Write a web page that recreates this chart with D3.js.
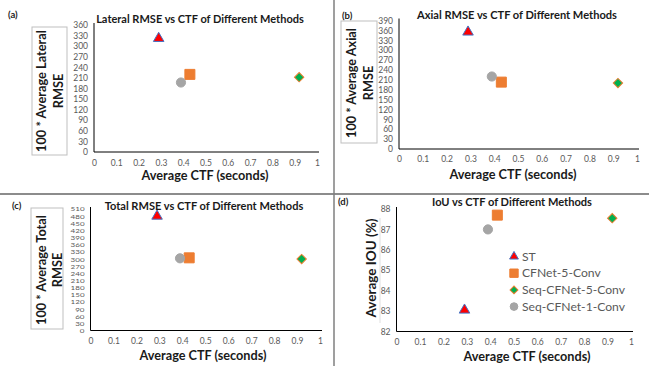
<!DOCTYPE html>
<html>
<head>
<meta charset="utf-8">
<script src="https://cdn.jsdelivr.net/npm/d3@7"></script>
<style>
  body { margin: 0; background: #fff; }
  svg { display: block; font-family: Lato, "Open Sans", sans-serif; }
</style>
</head>
<body>
<div id="chart"></div>
<script>
// data
const methods = ['ST', 'CFNet-5-Conv', 'Seq-CFNet-5-Conv', 'Seq-CFNet-1-Conv'];
const ctf = [0.29, 0.43, 0.92, 0.39];
const lateralRmse = [322, 220, 212, 197];
const axialRmse = [355, 203, 200, 220];
const totalRmse = [480, 305, 300, 303];
const iou = [83.05, 87.7, 87.55, 87.0];

const xTicks = [0, 0.1, 0.2, 0.3, 0.4, 0.5, 0.6, 0.7, 0.8, 0.9, 1];
const lateralTicks = d3.range(0, 361, 30);
const axialTicks = d3.range(0, 391, 30);
const totalTicks = d3.range(0, 511, 30);
const iouTicks = [82, 83, 84, 85, 86, 87, 88];

// marker style per method
const markerStyle = [
  { type: d3.symbolTriangle, size: 48, fill: '#ff0000', stroke: '#4472c4', rot: 0 },
  { type: d3.symbolSquare, size: 100, fill: '#ed7d31', stroke: '#ed7d31', rot: 0 },
  { type: d3.symbolSquare, size: 44, fill: '#00b050', stroke: '#ed7d31', rot: 45 },
  { type: d3.symbolCircle, size: 66, fill: '#a5a5a5', stroke: '#a5a5a5', rot: 0 }
];

// shrink/grow the font so the text takes the given width
function fitWidth(sel, target) {
  const fs = parseFloat(sel.attr('font-size'));
  const w = sel.node().getComputedTextLength();
  if (w > 0) sel.attr('font-size', (fs * target / w).toFixed(2));
  return parseFloat(sel.attr('font-size'));
}

const W = 649, H = 372;
const svg = d3.select('#chart').append('svg')
  .attr('width', W)
  .attr('height', H);

// dividers between the four panels
svg.append('line')
  .attr('x1', 0).attr('x2', W).attr('y1', 194).attr('y2', 194)
  .attr('stroke', '#8c8c8c').attr('stroke-width', 2);
svg.append('line')
  .attr('x1', 334).attr('x2', 334).attr('y1', 0).attr('y2', 366)
  .attr('stroke', '#7f7f7f').attr('stroke-width', 1.5);

const panels = [
  { tag: '(a)', tagX: 8, tagY: 18, title: 'Lateral RMSE vs CTF of Different Methods', titleX: 200, titleY: 23, titleW: 208,
    x0: 94, x1: 317, yTop: 25, yBot: 152, yDom: [0, 360], yTicks: lateralTicks, y: lateralRmse, squash: 1,
    ylab: ['100 * Average Lateral', 'RMSE'], ylabW: 122, box: [32, 27, 35, 128], labX: [41.7, 58.3], labY: 91,
    xlabX: 205, xlabY: 180, xtickY: 163 },
  { tag: '(b)', tagX: 342, tagY: 19, title: 'Axial RMSE vs CTF of Different Methods', titleX: 517, titleY: 19, titleW: 200,
    x0: 399, x1: 637, yTop: 20.5, yBot: 149, yDom: [0, 390], yTicks: axialTicks, y: axialRmse, squash: 1,
    ylab: ['100 * Average Axial', 'RMSE'], ylabW: 110, box: [341, 21, 36, 122], labX: [351.7, 368.3], labY: 83,
    xlabX: 513, xlabY: 178.5, xtickY: 159.5 },
  { tag: '(c)', tagX: 12, tagY: 209, title: 'Total RMSE vs CTF of Different Methods', titleX: 204, titleY: 209.5, titleW: 199,
    x0: 90.5, x1: 320, yTop: 209, yBot: 330.5, yDom: [0, 510], yTicks: totalTicks, y: totalRmse, squash: 0.78,
    ylab: ['100 * Average Total', 'RMSE'], ylabW: 110, box: [31, 208, 32, 121], labX: [41.7, 57.3], labY: 270,
    xlabX: 203, xlabY: 359.5, xtickY: 341.5 },
  { tag: '(d)', tagX: 338, tagY: 205, title: 'IoU vs CTF of Different Methods', titleX: 512, titleY: 205.5, titleW: 160,
    x0: 396.5, x1: 631, yTop: 209, yBot: 331.5, yDom: [82, 88], yTicks: iouTicks, y: iou, squash: 1,
    ylab: ['Average IOU (%)'], ylabW: 99, box: null, labX: [371], labY: 268,
    xlabX: 527, xlabY: 360.5, xtickY: 342.5 }
];

panels.forEach(p => {
  const g = svg.append('g');

  const xscale = d3.scaleLinear().domain([0, 1]).range([p.x0, p.x1]);
  const yscale = d3.scaleLinear().domain(p.yDom).range([p.yBot, p.yTop]);

  // panel letter + title
  g.append('text')
    .attr('x', p.tagX).attr('y', p.tagY)
    .attr('font-size', 9.5).attr('font-weight', 'bold').attr('fill', '#222')
    .text(p.tag);
  const title = g.append('text')
    .attr('x', p.titleX).attr('y', p.titleY)
    .attr('text-anchor', 'middle')
    .attr('font-size', 12).attr('font-weight', 'bold').attr('fill', '#1a1a1a')
    .text(p.title);
  fitWidth(title, p.titleW);

  // axes, no tick marks
  const xAxis = d3.axisBottom(xscale).tickValues(xTicks).tickSize(0).tickPadding(0).tickFormat(d3.format(''));
  const yAxis = d3.axisLeft(yscale).tickValues(p.yTicks).tickSize(0).tickPadding(6).tickFormat(d3.format(''));

  const gx = g.append('g')
    .attr('class', 'xAxis')
    .attr('transform', `translate(0,${p.yBot})`)
    .call(xAxis);
  const gy = g.append('g')
    .attr('class', 'yAxis')
    .attr('transform', `translate(${p.x0},0)`)
    .call(yAxis);

  [gx, gy].forEach(a => {
    a.select('.domain').attr('stroke', '#000').attr('stroke-width', 1);
    a.selectAll('text').attr('font-size', 8.5).attr('fill', '#595959')
      .attr('font-family', 'Lato, sans-serif');
  });
  gx.selectAll('text').attr('y', p.xtickY - p.yBot).attr('dy', '0.35em');
  gx.select('.domain').attr('d', `M${p.x0},0H${p.x1 + 2}`);
  gy.select('.domain').attr('d', `M0,${p.yTop - 2}V${p.yBot}`);
  if (p.squash < 1) {
    gy.selectAll('text').attr('font-size', 8).attr('transform', `scale(1,${p.squash})`);
  }

  // x axis label
  const xl = g.append('text')
    .attr('x', p.xlabX).attr('y', p.xlabY)
    .attr('text-anchor', 'middle')
    .attr('font-size', 12.5).attr('font-weight', 'bold').attr('fill', '#1a1a1a')
    .text('Average CTF (seconds)');
  fitWidth(xl, 127);

  // y axis label (boxed)
  if (p.box) {
    g.append('rect')
      .attr('x', p.box[0]).attr('y', p.box[1])
      .attr('width', p.box[2]).attr('height', p.box[3])
      .attr('fill', 'none').attr('stroke', '#bfbfbf').attr('stroke-width', 1);
  } else {
    g.append('line')
      .attr('x1', 380).attr('x2', 380).attr('y1', 218).attr('y2', 323)
      .attr('stroke', '#e0e0e0').attr('stroke-width', 1);
  }
  let labFs = 13;
  p.ylab.forEach((t, i) => {
    const yl = g.append('text')
      .attr('transform', `translate(${p.labX[i]},${p.labY}) rotate(-90)`)
      .attr('text-anchor', 'middle')
      .attr('dy', '0.35em')
      .attr('font-size', labFs).attr('font-weight', 'bold').attr('fill', '#1a1a1a')
      .text(t);
    if (i === 0) labFs = fitWidth(yl, p.ylabW);
  });

  // points
  methods.forEach((m, i) => {
    const s = markerStyle[i];
    g.append('path')
      .attr('d', d3.symbol().type(s.type).size(s.size)())
      .attr('transform', `translate(${xscale(ctf[i])},${yscale(p.y[i])}) rotate(${s.rot})`)
      .attr('fill', s.fill)
      .attr('stroke', s.stroke)
      .attr('stroke-width', 1);
  });
});

// legend (panel d)
const legend = svg.append('g').attr('transform', 'translate(514,256.5)');
const legendText = [];
methods.forEach((m, i) => {
  const s = markerStyle[i];
  const row = legend.append('g').attr('transform', `translate(0,${i * 16.7})`);
  row.append('path')
    .attr('d', d3.symbol().type(s.type).size(s.size * 0.7)())
    .attr('transform', `rotate(${s.rot})`)
    .attr('fill', s.fill)
    .attr('stroke', s.stroke)
    .attr('stroke-width', 1);
  legendText.push(row.append('text')
    .attr('x', 8).attr('dy', '0.35em')
    .attr('font-size', 12.2).attr('fill', '#595959')
    .text(m));
});
// size the legend font from the longest entry
const legFs = fitWidth(legendText[2], 103);
legendText.forEach(t => t.attr('font-size', legFs));
</script>
</body>
</html>
